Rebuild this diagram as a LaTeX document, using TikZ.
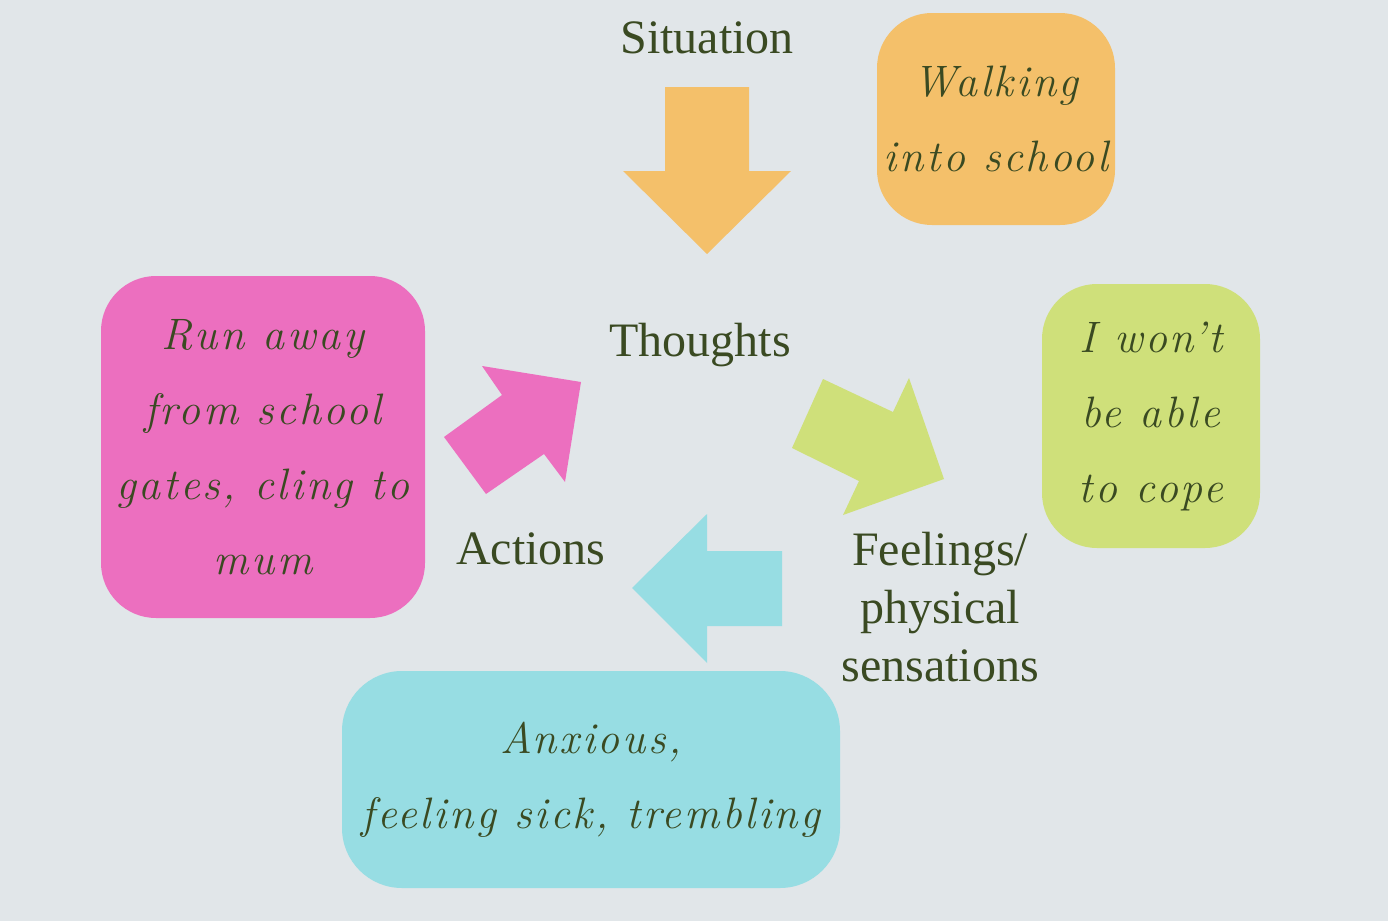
\documentclass[tikz,border=0pt]{standalone}
\usepackage{fontspec}
\setmainfont{Liberation Serif}
\newfontfamily\handfont[LetterSpace=6]{Latin Modern Roman}
\definecolor{bg}{RGB}{225,230,233}
\definecolor{txt}{RGB}{58,74,34}
\definecolor{corange}{RGB}{244,192,106}
\definecolor{cpink}{RGB}{236,111,191}
\definecolor{cgreen}{RGB}{207,224,122}
\definecolor{ccyan}{RGB}{151,221,227}
\tikzset{
  heading/.style={text=txt, font=\fontsize{24}{29}\selectfont, align=center, inner sep=0pt},
  card/.style={rounded corners=27.5pt, text=txt, align=center, inner sep=0pt,
    font=\handfont\itshape\fontsize{22}{37.5}\selectfont},
  blockarrow/.style={draw=none}
}
\begin{document}
\begin{tikzpicture}[x=0.5pt,y=-0.5pt]
\fill[bg] (0,0) rectangle (1388,921);
\useasboundingbox (0,0) rectangle (1388,921);

% block arrows
\fill[corange,blockarrow] (665,87) -- (749,87) -- (749,171) -- (791,171) -- (707,254) -- (623,171) -- (665,171) -- cycle;
\fill[cpink,blockarrow] (444,437) -- (502,395) -- (482,366) -- (581,382) -- (565,482) -- (544,454) -- (486,494) -- cycle;
\fill[cgreen,blockarrow] (823,379) -- (893,412) -- (909,378) -- (944,479) -- (843,515) -- (859,481) -- (792,448) -- cycle;
\fill[ccyan,blockarrow] (632,588) -- (707,514) -- (707,551) -- (782,551) -- (782,626) -- (707,626) -- (707,663) -- cycle;

% headings
\node[heading] (situation) at (707,38) {Situation};
\node[heading] (thoughts) at (700,345) {Thoughts};
\node[heading] (actions) at (531,549) {Actions};
\node[heading] (feelings) at (940,607) {Feelings/\\physical\\sensations};

% cards
\node[card, fill=corange, minimum width=119pt, minimum height=106pt] (walking) at (996,119) {Walking\\into school};
\node[card, fill=cpink, minimum width=162pt, minimum height=171pt] (runaway) at (263,447) {Run away\\from school\\gates, cling to\\mum};
\node[card, fill=cgreen, minimum width=109pt, minimum height=132pt] (cope) at (1151,416) {I won’t\\be able\\to cope};
\node[card, fill=ccyan, rounded corners=30pt, minimum width=249pt, minimum height=108.5pt] (anxious) at (591,779.5) {Anxious,\\feeling sick, trembling};
\end{tikzpicture}
\end{document}
